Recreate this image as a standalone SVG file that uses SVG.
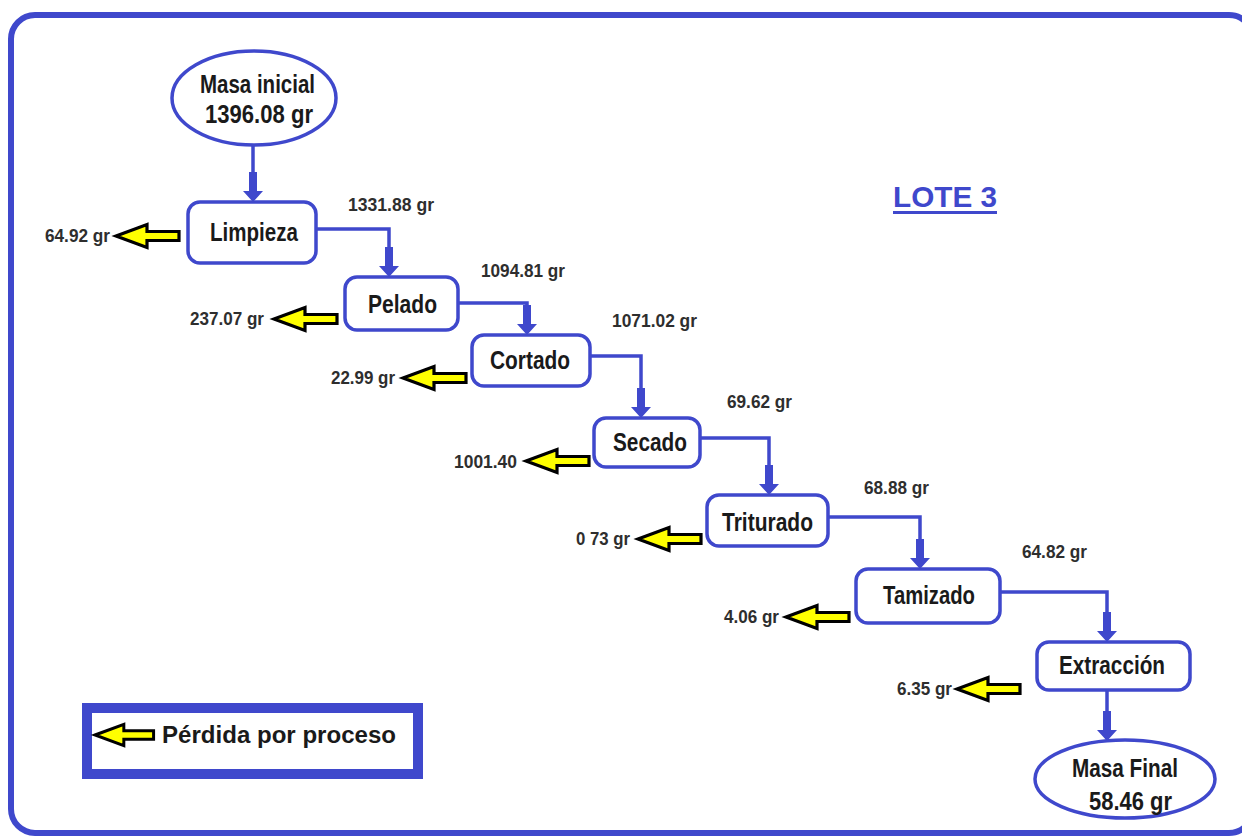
<svg xmlns="http://www.w3.org/2000/svg" xmlns:xlink="http://www.w3.org/1999/xlink" width="1242" height="836" viewBox="0 0 1242 836">
  <style>
    .frame { fill: #ffffff; stroke: #3f48cc; stroke-width: 6; }
    .box { fill: #ffffff; stroke: #3f48cc; stroke-width: 3.5; }
    .wire { fill: none; stroke: #3f48cc; stroke-width: 3.5; }
    .head { fill: #3f48cc; stroke: none; }
    .loss { fill: #ffff00; stroke: #000000; stroke-width: 3.2; stroke-linejoin: miter; }
    .node { font-family: "Liberation Sans", Arial, sans-serif; font-weight: bold; font-size: 25px; fill: #1a1a1a; }
    .num { font-family: "Liberation Sans", Arial, sans-serif; font-weight: bold; font-size: 18.5px; fill: #2e2e2e; }
    .title { font-family: "Liberation Sans", Arial, sans-serif; font-weight: bold; font-size: 30px; fill: #3f48cc; }
    .legend { font-family: "Liberation Sans", Arial, sans-serif; font-weight: bold; font-size: 23px; fill: #1a1a1a; }
  </style>
  <defs>
    <!-- downward flow arrowhead, tip at origin -->
    <path id="down" class="head" d="M-4,-30 H4 V-11 H10 L0,0 L-10,-11 H-4 Z"/>
    <!-- yellow loss arrow pointing left, tip at origin -->
    <path id="lossArrow" class="loss" d="M0,0 L31,-11.5 L31,-4.5 L63,-4.5 L63,4.5 L31,4.5 L31,11.5 Z"/>
  </defs>

  <rect width="1242" height="836" fill="#ffffff"/>
  <rect class="frame" x="11" y="15" width="1242" height="818" rx="24"/>

  <!-- connectors -->
  <g id="connectors">
    <path class="wire" d="M253,145 V190"/>
    <use href="#down" x="253" y="202"/>
    <path class="wire" d="M316,229 H389 V264"/>
    <use href="#down" x="389" y="277"/>
    <path class="wire" d="M458,303 H527 V322"/>
    <use href="#down" x="527" y="335"/>
    <path class="wire" d="M590,356 H641 V405"/>
    <use href="#down" x="641" y="418"/>
    <path class="wire" d="M700,438 H769 V482"/>
    <use href="#down" x="769" y="495"/>
    <path class="wire" d="M828,517 H920 V556"/>
    <use href="#down" x="920" y="569"/>
    <path class="wire" d="M1000,592 H1107 V629"/>
    <use href="#down" x="1107" y="642"/>
    <path class="wire" d="M1107,690 V728"/>
    <use href="#down" x="1107" y="741"/>
  </g>

  <!-- process nodes -->
  <g id="masa-inicial">
    <ellipse class="box" cx="254" cy="98" rx="82" ry="47"/>
    <text class="node" x="200" y="93" textLength="115" lengthAdjust="spacingAndGlyphs">Masa inicial</text>
    <text class="node" x="205" y="123" font-size="26" textLength="108" lengthAdjust="spacingAndGlyphs">1396.08 gr</text>
  </g>
  <g id="limpieza">
    <rect class="box" x="188" y="202" width="128" height="61" rx="12"/>
    <text class="node" x="210" y="241" textLength="88" lengthAdjust="spacingAndGlyphs">Limpieza</text>
  </g>
  <g id="pelado">
    <rect class="box" x="345" y="277" width="113" height="53" rx="12"/>
    <text class="node" x="368" y="313" textLength="69" lengthAdjust="spacingAndGlyphs">Pelado</text>
  </g>
  <g id="cortado">
    <rect class="box" x="472" y="335" width="118" height="51" rx="12"/>
    <text class="node" x="490" y="369" textLength="80" lengthAdjust="spacingAndGlyphs">Cortado</text>
  </g>
  <g id="secado">
    <rect class="box" x="594" y="418" width="106" height="49" rx="12"/>
    <text class="node" x="613" y="451" textLength="74" lengthAdjust="spacingAndGlyphs">Secado</text>
  </g>
  <g id="triturado">
    <rect class="box" x="707" y="495" width="121" height="51" rx="12"/>
    <text class="node" x="722" y="531" textLength="91" lengthAdjust="spacingAndGlyphs">Triturado</text>
  </g>
  <g id="tamizado">
    <rect class="box" x="856" y="569" width="144" height="54" rx="12"/>
    <text class="node" x="883" y="604" textLength="92" lengthAdjust="spacingAndGlyphs">Tamizado</text>
  </g>
  <g id="extraccion">
    <rect class="box" x="1037" y="642" width="153" height="48" rx="12"/>
    <text class="node" x="1059" y="674" textLength="106" lengthAdjust="spacingAndGlyphs">Extracción</text>
  </g>
  <g id="masa-final">
    <ellipse class="box" cx="1125" cy="779" rx="90" ry="39"/>
    <text class="node" x="1072" y="777" textLength="106" lengthAdjust="spacingAndGlyphs">Masa Final</text>
    <text class="node" x="1089" y="810" font-size="26" textLength="83" lengthAdjust="spacingAndGlyphs">58.46 gr</text>
  </g>

  <!-- mass after each step -->
  <g id="flow-labels">
    <text class="num" x="348" y="211" textLength="86" lengthAdjust="spacingAndGlyphs">1331.88 gr</text>
    <text class="num" x="481" y="277" textLength="84" lengthAdjust="spacingAndGlyphs">1094.81 gr</text>
    <text class="num" x="612" y="327" textLength="85" lengthAdjust="spacingAndGlyphs">1071.02 gr</text>
    <text class="num" x="727" y="408" textLength="65" lengthAdjust="spacingAndGlyphs">69.62 gr</text>
    <text class="num" x="864" y="494" textLength="65" lengthAdjust="spacingAndGlyphs">68.88 gr</text>
    <text class="num" x="1022" y="558" textLength="65" lengthAdjust="spacingAndGlyphs">64.82 gr</text>
  </g>

  <!-- losses per step -->
  <g id="losses">
    <use href="#lossArrow" x="116" y="236"/>
    <text class="num" x="45" y="242" textLength="65" lengthAdjust="spacingAndGlyphs">64.92 gr</text>
    <use href="#lossArrow" x="274" y="319"/>
    <text class="num" x="190" y="325" textLength="74" lengthAdjust="spacingAndGlyphs">237.07 gr</text>
    <use href="#lossArrow" x="403" y="378"/>
    <text class="num" x="331" y="384" textLength="64" lengthAdjust="spacingAndGlyphs">22.99 gr</text>
    <use href="#lossArrow" x="526" y="461"/>
    <text class="num" x="454" y="468" textLength="63" lengthAdjust="spacingAndGlyphs">1001.40</text>
    <use href="#lossArrow" x="638" y="539"/>
    <text class="num" x="576" y="545" textLength="54" lengthAdjust="spacingAndGlyphs">0 73 gr</text>
    <use href="#lossArrow" x="786" y="617"/>
    <text class="num" x="724" y="623" textLength="55" lengthAdjust="spacingAndGlyphs">4.06 gr</text>
    <use href="#lossArrow" x="957" y="689"/>
    <text class="num" x="897" y="695" textLength="55" lengthAdjust="spacingAndGlyphs">6.35 gr</text>
  </g>

  <!-- batch title -->
  <g id="title">
    <text class="title" x="893" y="207" textLength="104" lengthAdjust="spacingAndGlyphs">LOTE 3</text>
    <rect x="893" y="211" width="104" height="3" fill="#3f48cc"/>
  </g>

  <!-- legend -->
  <g id="legend">
    <rect x="87" y="708" width="331" height="66" fill="#ffffff" stroke="#3f48cc" stroke-width="10"/>
    <use href="#lossArrow" x="95" y="735" transform="translate(95 735) scale(0.93) translate(-95 -735)"/>
    <text class="legend" x="162" y="743" textLength="234" lengthAdjust="spacingAndGlyphs">Pérdida por proceso</text>
  </g>
</svg>
